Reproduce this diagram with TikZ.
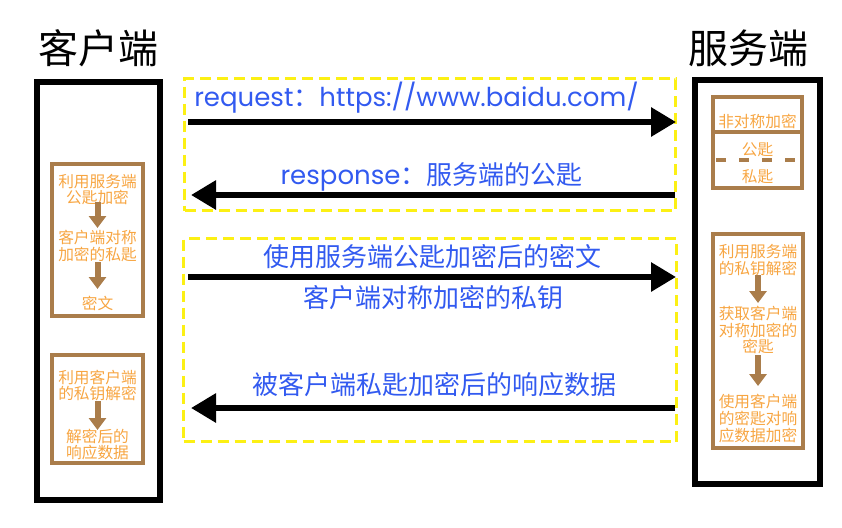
\documentclass[tikz,border=0pt]{standalone}
\usepackage{fontspec}
\setmainfont{Noto Sans CJK SC}
\newfontfamily\lat{Poppins}
\usetikzlibrary{arrows.meta}
\definecolor{tblue}{RGB}{50,90,240}
\definecolor{torange}{RGB}{247,165,65}
\definecolor{tbrown}{RGB}{170,125,75}
\definecolor{tyellow}{RGB}{252,240,20}
\begin{document}
\begin{tikzpicture}[x=1pt,y=-1pt,
  titletext/.style={font=\fontsize{40}{44}\selectfont, text=black, inner sep=0pt},
  outerbox/.style={draw=black, line width=6pt, inner sep=0pt},
  innerbox/.style={draw=tbrown, line width=4.5pt, inner sep=0pt},
  ylbox/.style={draw=tyellow, line width=3.5pt, dash pattern=on 11pt off 6pt, inner sep=0pt},
  msg/.style={text=tblue, font=\fontsize{26}{30}\selectfont, inner sep=0pt},
  innertext/.style={text=torange, font=\fontsize{15.7}{16.7}\selectfont, align=center, inner sep=0pt},
  bigarrow/.style={draw=black, line width=6pt, -{Triangle[length=25pt,width=28pt]}},
  smallarrow/.style={draw=tbrown, line width=6pt, -{Triangle[length=12pt,width=17pt]}},
  sepline/.style={draw=tbrown, line width=4.5pt}
]
\useasboundingbox (0,0) rectangle (842,527);

% titles
\node[titletext] (tc) at (98,48) {客户端};
\node[titletext] (ts) at (748,48) {服务端};

% outer boxes
\node[outerbox, minimum width=123.5pt, minimum height=418.5pt] (cbox) at (98.25,290.75) {};
\node[outerbox, minimum width=125.6pt, minimum height=404pt] (sbox) at (757.5,281.7) {};

% yellow dashed boxes
\node[ylbox, minimum width=491pt, minimum height=132pt] (y1) at (430,144.5) {};
\node[ylbox, minimum width=493pt, minimum height=203pt] (y2) at (430,340) {};

% client inner boxes
\node[innerbox, minimum width=91pt, minimum height=152pt] (cb1) at (97.5,240) {};
\node[innerbox, minimum width=91pt, minimum height=108pt] (cb2) at (97.5,409) {};
\node[innertext] (c1a) at (97.5,189.5) {利用服务端\\公匙加密};
\node[innertext] (c1b) at (97.5,246) {客户端对称\\加密的私匙};
\node[innertext] (c1c) at (97.5,303) {密文};
\coordinate (c1ar1s) at (97.5,202);
\coordinate (c1ar1e) at (97.5,228);
\coordinate (c1ar2s) at (97.5,262);
\coordinate (c1ar2e) at (97.5,289);
\draw[smallarrow] (c1ar1s) -- (c1ar1e);
\draw[smallarrow] (c1ar2s) -- (c1ar2e);
\node[innertext] (c2a) at (97.5,385.5) {利用客户端\\的私钥解密};
\node[innertext] (c2b) at (97.5,444.5) {解密后的\\响应数据};
\coordinate (c2ars) at (97.5,401);
\coordinate (c2are) at (97.5,430);
\draw[smallarrow] (c2ars) -- (c2are);

% server inner boxes
\node[innerbox, minimum width=89pt, minimum height=91pt] (sk) at (757.5,142.5) {};
\coordinate (sksep) at (0,132);
\draw[sepline] (sk.west |- sksep) -- (sk.east |- sksep);
\node[innertext] (ska) at (757.5,121.5) {非对称加密};
\node[innertext] (skb) at (757.5,150) {公匙};
\coordinate (skdl) at (716,160);
\coordinate (skdr) at (800,160);
\draw[sepline, line width=4pt, dash pattern=on 10pt off 13pt] (skdl) -- (skdr);
\node[innertext] (skc) at (757.5,177) {私匙};

\node[innerbox, minimum width=90pt, minimum height=214pt] (sb2) at (758,341) {};
\node[innertext] (s2a) at (758,260) {利用服务端\\的私钥解密};
\node[innertext] (s2b) at (758,330) {获取客户端\\对称加密的\\密匙};
\node[innertext] (s2c) at (758,418.5) {使用客户端\\的密匙对响\\应数据加密};
\coordinate (s2ar1s) at (758,275);
\coordinate (s2ar1e) at (758,303);
\coordinate (s2ar2s) at (758,355);
\coordinate (s2ar2e) at (758,386);
\draw[smallarrow] (s2ar1s) -- (s2ar1e);
\draw[smallarrow] (s2ar2s) -- (s2ar2e);

% messages
\node[msg] (req) at (416.5,98) {{\lat request}：{\lat https://www.baidu.com/}};
\node[msg] (resp) at (431.5,177) {{\lat response}：服务端的公匙};
\node[msg] (m3a) at (432.5,257) {使用服务端公匙加密后的密文};
\node[msg] (m3b) at (433,298) {客户端对称加密的私钥};
\node[msg] (m4) at (434,385) {被客户端私匙加密后的响应数据};

% arrows
\coordinate (a1s) at (188,122);
\coordinate (a1e) at (676,122);
\coordinate (a2s) at (675,195);
\coordinate (a2e) at (191,195);
\coordinate (a3s) at (188,277);
\coordinate (a3e) at (676,277);
\coordinate (a4s) at (675,408);
\coordinate (a4e) at (191,408);
\draw[bigarrow] (a1s) -- (a1e);
\draw[bigarrow] (a2s) -- (a2e);
\draw[bigarrow] (a3s) -- (a3e);
\draw[bigarrow] (a4s) -- (a4e);
\end{tikzpicture}
\end{document}
